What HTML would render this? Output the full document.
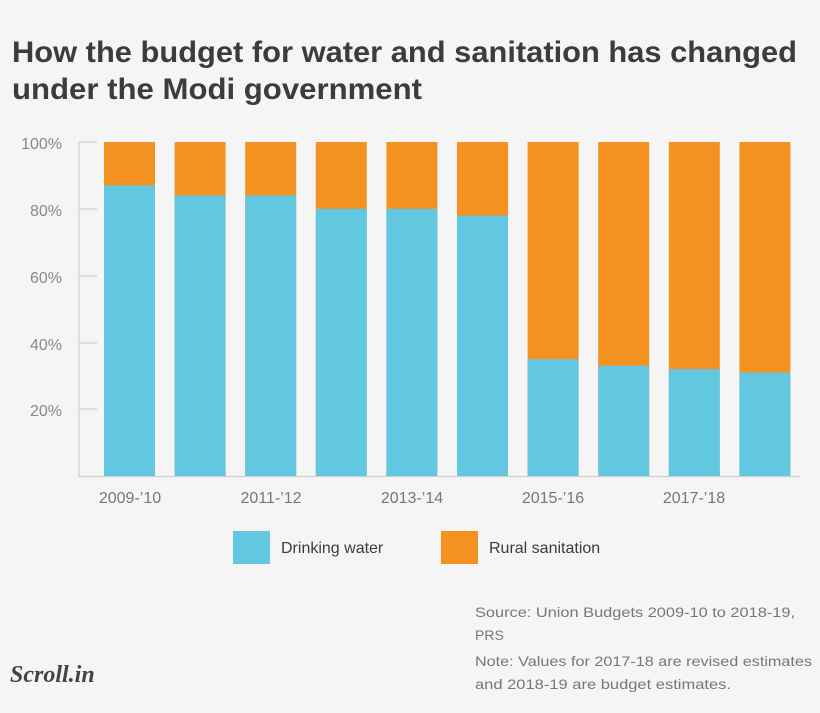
<!DOCTYPE html>
<html><head><meta charset="utf-8"><style>
html,body{margin:0;padding:0;background:#f5f5f5;}
body{width:820px;height:708px;overflow:hidden;}
</style></head><body>
<svg width="820" height="708" xmlns="http://www.w3.org/2000/svg" font-family="Liberation Sans, sans-serif">
<rect width="820" height="708" fill="#f5f5f5"/>
<text x="12" y="62" font-size="30" font-weight="bold" fill="#3c3c3c" textLength="785" lengthAdjust="spacingAndGlyphs">How the budget for water and sanitation has changed</text>
<text x="12" y="99" font-size="30" font-weight="bold" fill="#3c3c3c" textLength="410" lengthAdjust="spacingAndGlyphs">under the Modi government</text>
<g stroke="#cfcfcf" stroke-width="1.2">
<line x1="79" y1="142" x2="79" y2="477"/>
<line x1="79" y1="476.5" x2="800" y2="476.5"/>
<line x1="79" y1="142" x2="97" y2="142"/>
<line x1="79" y1="209" x2="97" y2="209"/>
<line x1="79" y1="276" x2="97" y2="276"/>
<line x1="79" y1="343" x2="97" y2="343"/>
<line x1="79" y1="409" x2="97" y2="409"/>
</g>
<g font-size="16" fill="#888" text-anchor="end">
<text x="62" y="149">100%</text>
<text x="62" y="216">80%</text>
<text x="62" y="283">60%</text>
<text x="62" y="350">40%</text>
<text x="62" y="416">20%</text>
</g>
<g>
<rect x="104" y="142" width="51" height="334" fill="#f39221"/><rect x="104" y="185.4" width="51" height="290.6" fill="#62c8e2"/>
<rect x="174.6" y="142" width="51" height="334" fill="#f39221"/><rect x="174.6" y="195.4" width="51" height="280.6" fill="#62c8e2"/>
<rect x="245.2" y="142" width="51" height="334" fill="#f39221"/><rect x="245.2" y="195.4" width="51" height="280.6" fill="#62c8e2"/>
<rect x="315.8" y="142" width="51" height="334" fill="#f39221"/><rect x="315.8" y="208.8" width="51" height="267.2" fill="#62c8e2"/>
<rect x="386.4" y="142" width="51" height="334" fill="#f39221"/><rect x="386.4" y="208.8" width="51" height="267.2" fill="#62c8e2"/>
<rect x="457" y="142" width="51" height="334" fill="#f39221"/><rect x="457" y="215.5" width="51" height="260.5" fill="#62c8e2"/>
<rect x="527.6" y="142" width="51" height="334" fill="#f39221"/><rect x="527.6" y="359.1" width="51" height="116.9" fill="#62c8e2"/>
<rect x="598.2" y="142" width="51" height="334" fill="#f39221"/><rect x="598.2" y="365.8" width="51" height="110.2" fill="#62c8e2"/>
<rect x="668.8" y="142" width="51" height="334" fill="#f39221"/><rect x="668.8" y="369.1" width="51" height="106.9" fill="#62c8e2"/>
<rect x="739.4" y="142" width="51" height="334" fill="#f39221"/><rect x="739.4" y="372.5" width="51" height="103.5" fill="#62c8e2"/>
</g>
<g font-size="16" fill="#777" text-anchor="middle">
<text x="130" y="503">2009-’10</text>
<text x="271" y="503">2011-’12</text>
<text x="412" y="503">2013-’14</text>
<text x="553" y="503">2015-’16</text>
<text x="694" y="503">2017-’18</text>
</g>
<rect x="233" y="531" width="37" height="33" fill="#62c8e2"/>
<text x="281" y="553" font-size="16" fill="#3c3c3c">Drinking water</text>
<rect x="441" y="531" width="37" height="33" fill="#f39221"/>
<text x="489" y="553" font-size="16" fill="#3c3c3c">Rural sanitation</text>
<g font-size="14" fill="#777">
<text x="475" y="617" textLength="320" lengthAdjust="spacingAndGlyphs">Source: Union Budgets 2009-10 to 2018-19,</text>
<text x="475" y="640">PRS</text>
<text x="475" y="666" textLength="337" lengthAdjust="spacingAndGlyphs">Note: Values for 2017-18 are revised estimates</text>
<text x="475" y="689" textLength="256" lengthAdjust="spacingAndGlyphs">and 2018-19 are budget estimates.</text>
</g>
<text x="10" y="682" font-size="24" font-style="italic" font-weight="bold" font-family="Liberation Serif, serif" fill="#444">Scroll.in</text>
</svg>
</body></html>
